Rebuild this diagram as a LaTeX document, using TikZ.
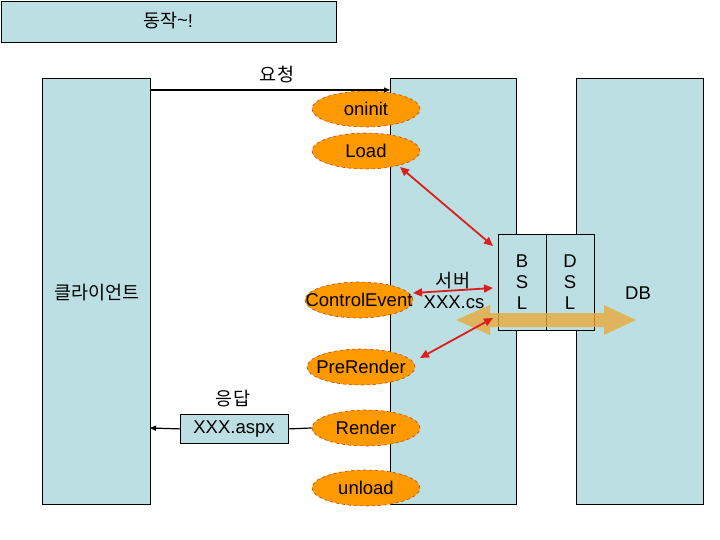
\documentclass[tikz,border=0pt]{standalone}
\usepackage{fontspec}
\setmainfont{Liberation Sans}
\newfontfamily\kr{Noto Sans CJK KR}
\usetikzlibrary{arrows.meta,shapes.geometric}
\definecolor{boxblue}{RGB}{187,223,227}
\definecolor{ellorange}{RGB}{255,153,0}
\definecolor{elledge}{RGB}{190,70,20}
\definecolor{redarrow}{RGB}{220,30,30}
\definecolor{fatorange}{RGB}{232,170,60}
\newcommand{\zw}[1]{\makebox[0pt][c]{#1}}
\tikzset{
  colbox/.style={draw=black, line width=0.8pt, fill=boxblue, inner sep=0pt},
  evt/.style={ellipse, fill=ellorange, draw=elledge, dashed, line width=0.6pt, minimum width=108pt, minimum height=36pt, inner sep=0pt, font=\fontsize{18.5}{20}\selectfont},
  lbl/.style={font=\fontsize{18.5}{20}\selectfont, inner sep=0pt},
  klbl/.style={font=\kr\fontsize{18.5}{20}\selectfont, inner sep=0pt},
  redarr/.style={draw=redarrow, line width=1.8pt, {Triangle[length=9pt,width=8pt]}-{Triangle[length=9pt,width=8pt]}},
  blk/.style={draw=black, line width=1.2pt}
}
\begin{document}
\begin{tikzpicture}[x=1pt,y=-1pt]
\useasboundingbox (0,0) rectangle (720,540);
% top box
\node[colbox, line width=1.5pt, minimum width=335pt, minimum height=41pt, anchor=north west] (title) at (0.75,0.75) {};
\node[klbl] (titletxt) at (168,21) {동작\fontspec{Liberation Sans}\fontsize{18.5}{20}\selectfont\raisebox{1pt}{\textasciitilde}!};
% columns
\node[colbox, minimum width=108pt, minimum height=426pt, anchor=north west] (client) at (42,78) {};
\node[colbox, minimum width=126pt, minimum height=426pt, anchor=north west] (server) at (390,78) {};
\node[colbox, minimum width=127pt, minimum height=426pt, anchor=north west] (db) at (576,78) {};
\node[klbl] (clienttxt) at (97,293) {클라이언트};
\node[lbl] (dbtxt) at (638,293) {DB};
% BSL / DSL
\node[colbox, minimum width=48pt, minimum height=96pt, anchor=north west] (bsl) at (498,234) {};
\node[colbox, minimum width=48pt, minimum height=96pt, anchor=north west] (dsl) at (546,234) {};
\node[lbl, align=center] (bsltxt) at (522,282) {B\\[1pt]S\\[1pt]L};
\node[lbl, align=center] (dsltxt) at (570,282) {D\\[1pt]S\\[1pt]L};
% server text
\node[klbl] (servertxt) at (453,281) {서버};
\node[lbl] (cstxt) at (454,302) {XXX.cs};
% events
\node[evt] (oninit) at (366,109) {\zw{oninit}};
\node[evt] (load) at (366,151) {\zw{Load}};
\node[evt] (ctrl) at (359,300) {\zw{ControlEvent}};
\node[evt] (prer) at (361,367) {\zw{PreRender}};
\node[evt] (render) at (366,428) {\zw{Render}};
\node[evt] (unload) at (366,488) {\zw{unload}};
% request
\coordinate (reqs) at (150,90);
\coordinate (reqe) at (390,90);
\draw[blk, -{Triangle[length=6pt,width=5pt]}] (reqs) -- (reqe);
\node[klbl] (reqtxt) at (277,75) {요청};
% response
\node[colbox, minimum width=108pt, minimum height=29pt, anchor=north west] (aspx) at (180,414) {};
\node[lbl] (aspxtxt) at (234,429) {XXX.aspx};
\coordinate (resp) at (150,428);
\draw[blk] (render.west) -- (aspx.east);
\draw[blk, -{Triangle[length=6pt,width=5pt]}] (aspx.west) -- (resp);
\node[klbl] (resptxt) at (233,399) {응답};
% red arrows
\coordinate (r1) at (493,246);
\coordinate (r2) at (493,288);
\coordinate (r3) at (493,318);
\coordinate (l1) at (400,167);
\coordinate (l2) at (413,293);
\coordinate (l3) at (420,358);
\draw[redarr] (l1) -- (r1);
\draw[redarr] (l2) -- (r2);
% fat orange arrow
\fill[fatorange, opacity=0.8] (456,320) -- (490,305) -- (490,313) -- (604,313) -- (604,305) -- (636,320) -- (604,335) -- (604,327) -- (490,327) -- (490,335) -- cycle;
\draw[redarr] (l3) -- (r3);
\end{tikzpicture}
\end{document}
